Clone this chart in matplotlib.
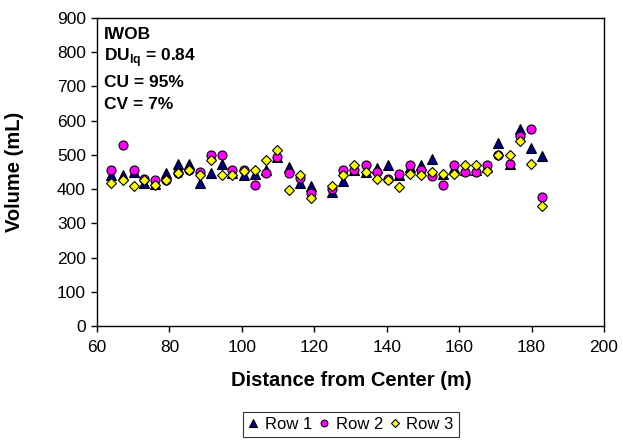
import matplotlib
matplotlib.use("Agg")
import matplotlib.pyplot as plt
from matplotlib.ticker import MultipleLocator

plt.rcParams['font.family'] = ['Liberation Sans', 'DejaVu Sans']
plt.rcParams['mathtext.fontset'] = 'custom'
plt.rcParams['mathtext.rm'] = 'Liberation Sans'
plt.rcParams['mathtext.bf'] = 'Liberation Sans:bold'

distance = [64, 67.2, 70.1, 73.1, 76.1, 79.1, 82.3, 85.3, 88.5, 91.5, 94.5, 97.4,
            100.5, 103.6, 106.6, 109.7, 112.9, 116, 119, 125, 127.9, 131.1, 134.2,
            137.3, 140.4, 143.3, 146.3, 149.6, 152.5, 155.5, 158.6, 161.7, 164.7,
            167.8, 170.8, 174.1, 176.8, 179.8, 183]
row1 = [440, 440, 450, 417, 414, 447, 472, 472, 417, 448, 472, 446, 440, 445, 457,
        494, 466, 417, 408, 391, 424, 456, 449, 461, 471, 441, 465, 471, 487, 444,
        462, 455, 455, 465, 534, 474, 575, 520, 498]
row2 = [457, 528, 457, 430, 427, 427, 447, 457, 450, 499, 499, 457, 455, 412, 448,
        494, 448, 433, 388, 400, 456, 456, 471, 449, 430, 444, 471, 456, 439, 412,
        471, 449, 449, 471, 500, 474, 555, 575, 378]
row3 = [417, 428, 409, 427, 411, 426, 447, 457, 440, 486, 440, 442, 453, 457, 486,
        513, 398, 442, 373, 410, 441, 471, 449, 429, 426, 405, 444, 441, 449, 444,
        444, 471, 471, 454, 500, 500, 541, 474, 352]
series_names = ['Row 1', 'Row 2', 'Row 3']
annot_lines = ['IWOB', r'DU$_{\mathbf{lq}}$ = 0.84', 'CU = 95%', 'CV = 7%']

W, H = 623, 441
fig = plt.figure(figsize=(W / 100, H / 100), dpi=100)
ax = fig.add_axes([97 / W, 1 - 326 / H, (604 - 97) / W, (326 - 18) / H])

ax.plot(distance, row1, linestyle='none', marker='^', markersize=7,
        markerfacecolor='#000080', markeredgecolor='black', markeredgewidth=0.8,
        label=series_names[0])
ax.plot(distance, row2, linestyle='none', marker='o', markersize=6.5,
        markerfacecolor='#FF00FF', markeredgecolor='black', markeredgewidth=0.8,
        label=series_names[1])
ax.plot(distance, row3, linestyle='none', marker='D', markersize=5.2,
        markerfacecolor='#FFFF00', markeredgecolor='black', markeredgewidth=0.8,
        label=series_names[2])

ax.set_xlim(60, 200)
ax.set_ylim(0, 900)
ax.xaxis.set_major_locator(MultipleLocator(20))
ax.yaxis.set_major_locator(MultipleLocator(100))
ax.tick_params(direction='out', length=4, width=1, labelsize=12.5)
ax.tick_params(axis='x', pad=6)
ax.tick_params(axis='y', pad=4)
for s in ax.spines.values():
    s.set_linewidth(1)
    s.set_color('black')

fig.text(351 / W, 1 - 381 / H, 'Distance from Center (m)', fontsize=14.5,
         fontweight='bold', ha='center', va='center')
fig.text(15 / W, 1 - 172 / H, 'Volume (mL)', fontsize=14.5, fontweight='bold',
         ha='center', va='center', rotation=90)

ys = [851, 784, 711, 646]
for txt, yv in zip(annot_lines, ys):
    ax.text(62, yv, txt, fontsize=12.5, fontweight='bold', ha='left', va='center')

leg = fig.legend(loc='upper center', bbox_to_anchor=(351 / W, 1 - 412 / H), ncol=3,
                 frameon=True, fancybox=False, fontsize=12, handlelength=0.6,
                 handletextpad=0.4, columnspacing=0.4, borderpad=0.3,
                 markerscale=0.75, borderaxespad=0)
leg.get_frame().set_edgecolor('black')
leg.get_frame().set_linewidth(0.8)

fig.savefig('out.png', dpi=100)
